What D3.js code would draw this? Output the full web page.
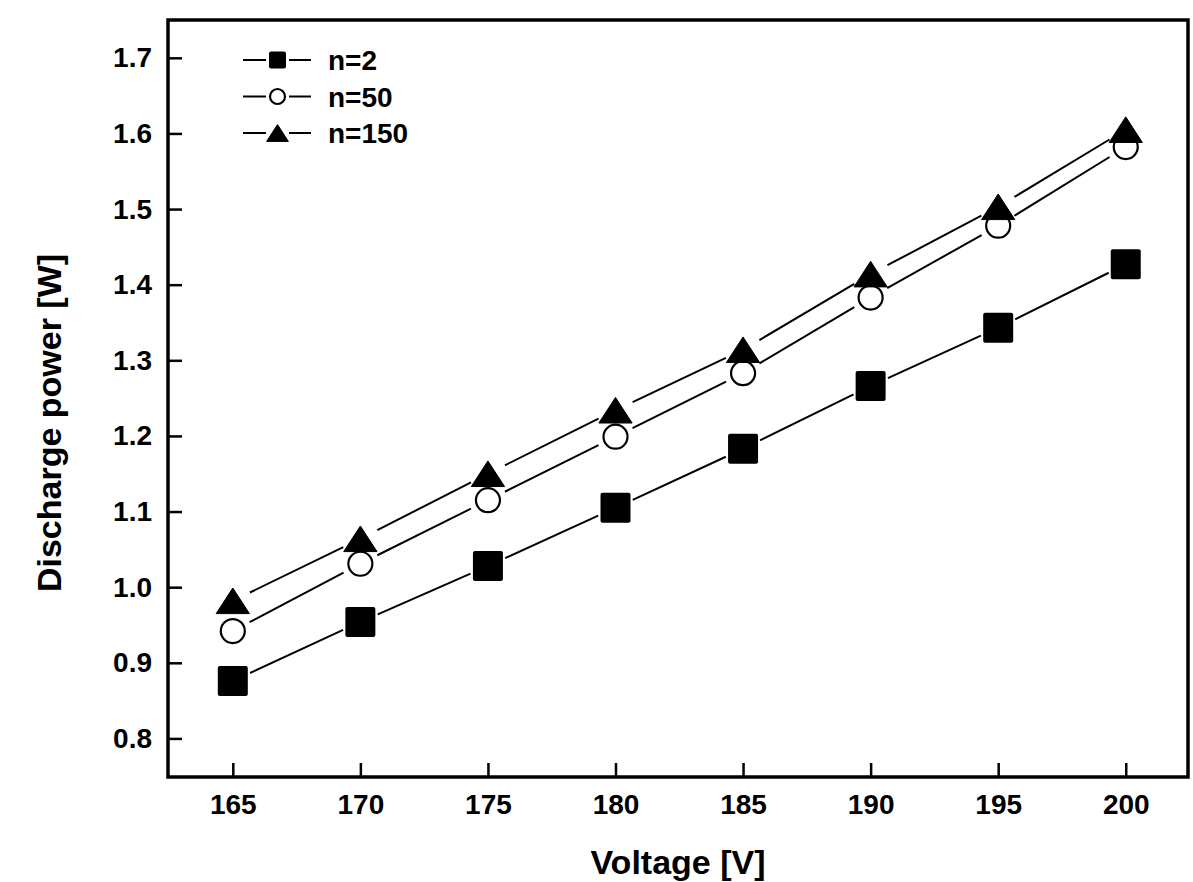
<!DOCTYPE html>
<html lang="en">
  <head>
    <meta charset="utf-8">
    <title>Discharge power vs Voltage</title>
    <style>
      body { margin: 0; background: #fff; }
      text { font-family: "Liberation Sans", Arial, sans-serif; fill: #000; font-weight: bold; }
    </style>
  </head>
  <body>
    <div id="container"></div>
    <script src="https://cdn.jsdelivr.net/npm/d3@7/dist/d3.min.js"></script>
    <script type="text/javascript">
      // data
      var voltage = [165, 170, 175, 180, 185, 190, 195, 200];
      var n2   = [0.876, 0.954, 1.028, 1.105, 1.183, 1.266, 1.343, 1.427];
      var n50  = [0.942, 1.031, 1.115, 1.199, 1.283, 1.383, 1.478, 1.582];
      var n150 = [0.982, 1.064, 1.150, 1.234, 1.314, 1.414, 1.503, 1.605];
      var seriesNames = ["n=2", "n=50", "n=150"];
      var xTicks = [165, 170, 175, 180, 185, 190, 195, 200];
      var yTicks = [0.8, 0.9, 1.0, 1.1, 1.2, 1.3, 1.4, 1.5, 1.6, 1.7];

      var W = 1193, H = 882;
      var margin = {top: 20, right: 5, bottom: 105, left: 168},
          width = W - margin.left - margin.right,
          height = H - margin.top - margin.bottom;

      var svg = d3.select("#container")
        .append("svg")
          .attr("width", W)
          .attr("height", H);

      var g = svg.append("g")
          .attr("transform", "translate(" + margin.left + "," + margin.top + ")");

      var x = d3.scaleLinear().domain([162.46, 202.44]).range([0, width]);
      var y = d3.scaleLinear().domain([0.749, 1.75]).range([height, 0]);

      // axes, ticks pointing inward
      var xAxis = d3.axisBottom(x).tickValues(xTicks).tickSizeInner(-14).tickSizeOuter(0).tickPadding(16);
      var yAxis = d3.axisLeft(y).tickValues(yTicks).tickSizeInner(-14).tickSizeOuter(0).tickPadding(16)
          .tickFormat(d3.format(".1f"));

      var gx = g.append("g").attr("transform", "translate(0," + height + ")").call(xAxis);
      var gy = g.append("g").call(yAxis);
      [gx, gy].forEach(function(a) {
        a.select(".domain").remove();
        a.selectAll("line").attr("stroke", "#000").attr("stroke-width", 2.5);
        a.selectAll("text").style("font-size", "28px").attr("fill", "#000");
      });
      gx.selectAll("text").attr("dy", "0.74em");

      // frame
      g.append("rect")
        .attr("x", 0).attr("y", 0)
        .attr("width", width).attr("height", height)
        .attr("fill", "none").attr("stroke", "#000").attr("stroke-width", 3.5);

      // axis titles
      svg.append("text")
        .attr("x", 678).attr("y", 874)
        .attr("text-anchor", "middle")
        .style("font-size", "34px")
        .text("Voltage [V]");
      svg.append("text")
        .attr("transform", "translate(61,423) rotate(-90)")
        .attr("text-anchor", "middle")
        .style("font-size", "34px")
        .text("Discharge power [W]");

      var series = [
        {name: seriesNames[0], values: n2, shape: "square"},
        {name: seriesNames[1], values: n50, shape: "circle"},
        {name: seriesNames[2], values: n150, shape: "triangle"}
      ];

      function drawMarker(sel, shape, cx, cy, s) {
        if (shape === "square") {
          sel.append("rect")
            .attr("x", cx - s / 2).attr("y", cy - s / 2)
            .attr("width", s).attr("height", s).attr("rx", 2)
            .attr("fill", "#000");
        } else if (shape === "circle") {
          sel.append("circle")
            .attr("cx", cx).attr("cy", cy).attr("r", s / 2 - 1)
            .attr("fill", "#fff").attr("stroke", "#000").attr("stroke-width", 2.2);
        } else {
          var hw = s * 0.52, hh = s * 0.4;
          sel.append("path")
            .attr("d", "M" + cx + "," + (cy - hh) + "L" + (cx + hw) + "," + (cy + hh) + "L" + (cx - hw) + "," + (cy + hh) + "Z")
            .attr("fill", "#000").attr("stroke", "#000").attr("stroke-width", 1).attr("stroke-linejoin", "round");
        }
      }

      var gap = 19;
      series.forEach(function(s) {
        var sg = g.append("g");
        // segments with gaps around the symbols
        for (var i = 0; i < voltage.length - 1; i++) {
          var x1 = x(voltage[i]), y1 = y(s.values[i]),
              x2 = x(voltage[i + 1]), y2 = y(s.values[i + 1]);
          var dx = x2 - x1, dy = y2 - y1, len = Math.sqrt(dx * dx + dy * dy);
          var ux = dx / len, uy = dy / len;
          sg.append("line")
            .attr("x1", x1 + ux * gap).attr("y1", y1 + uy * gap)
            .attr("x2", x2 - ux * gap).attr("y2", y2 - uy * gap)
            .attr("stroke", "#000").attr("stroke-width", 2);
        }
        var size = s.shape === "square" ? 30 : (s.shape === "circle" ? 26 : 32);
        voltage.forEach(function(v, i) {
          drawMarker(sg, s.shape, x(v), y(s.values[i]), size);
        });
      });

      // legend
      var legend = svg.append("g");
      series.forEach(function(s, i) {
        var ly = 60 + i * 36.5;
        legend.append("line").attr("x1", 243).attr("x2", 266).attr("y1", ly).attr("y2", ly)
          .attr("stroke", "#000").attr("stroke-width", 2);
        legend.append("line").attr("x1", 289).attr("x2", 311).attr("y1", ly).attr("y2", ly)
          .attr("stroke", "#000").attr("stroke-width", 2);
        drawMarker(legend, s.shape, 277.5, ly, s.shape === "triangle" ? 21 : 17);
        legend.append("text")
          .attr("x", 328).attr("y", ly).attr("dy", "0.36em")
          .style("font-size", "28px")
          .text(s.name);
      });
    </script>
  </body>
</html>
